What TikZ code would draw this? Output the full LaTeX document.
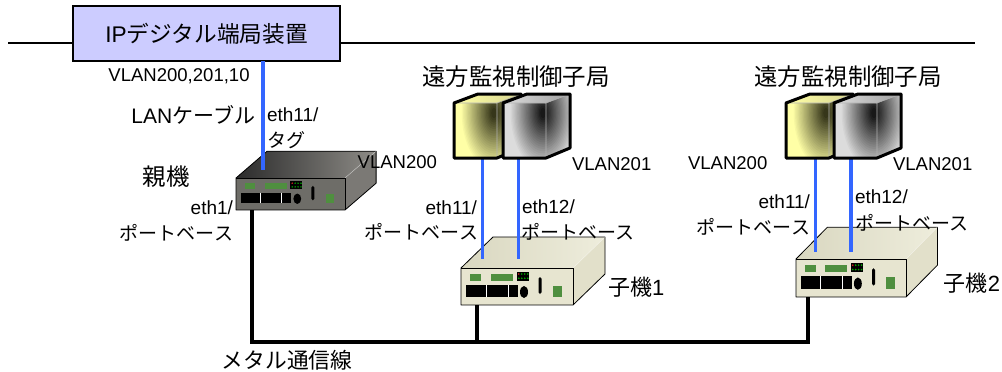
\documentclass[tikz,border=0pt]{standalone}
\usepackage{fontspec}
\setmainfont{Liberation Sans}
\newfontfamily\jpfont{Noto Sans CJK JP}
\newcommand\jp[1]{{\jpfont #1}}

\definecolor{lanblue}{HTML}{3366FF}
\definecolor{boxlav}{HTML}{CCCCFF}
\definecolor{ledgreen}{HTML}{4F8F3F}
\definecolor{ledred}{HTML}{E02020}
% parent unit
\definecolor{pFront}{HTML}{6E6D68}
\definecolor{pTopD}{HTML}{2B2B2B}
\definecolor{pTopL}{HTML}{8E8C87}
\definecolor{pSide}{HTML}{7B7975}
% child units
\definecolor{cFront}{HTML}{E7E5D0}
\definecolor{cTopD}{HTML}{D9D7C0}
\definecolor{cTopL}{HTML}{EEEDDC}
\definecolor{cSide}{HTML}{E2E0CA}
% stations
\definecolor{yLight}{HTML}{FFFFA6}
\definecolor{yDark}{HTML}{2E2E14}
\definecolor{yMid}{HTML}{D8D690}
\definecolor{gLight}{HTML}{DCDCDC}
\definecolor{gDark}{HTML}{101010}
\definecolor{gMid}{HTML}{A0A0A0}

\tikzset{
  every node/.style={inner sep=0pt, outer sep=0pt},
  lbl/.style={font=\fontsize{13.9pt}{16pt}\selectfont},
  ethlbl/.style={font=\fontsize{14.25pt}{16pt}\selectfont},
  portlbl/.style={font=\fontsize{14.25pt}{16pt}\selectfont\jpfont},
  biglbl/.style={font=\fontsize{17.6pt}{20pt}\selectfont\jpfont},
  unitlbl/.style={font=\fontsize{16.5pt}{19pt}\selectfont\jpfont},
  lan/.style={draw=lanblue, line width=2.4pt},
  metal/.style={draw=black, line width=2.5pt},
  bus/.style={draw=black, line width=1.5pt},
  % network unit: front panel 112 x 37 with top and right faces
  pics/unit/.style n args={4}{code={
    \path[left color=#2, right color=#3] (0,0) -- (32,-31) -- (144,-31) -- (112,0) -- cycle;
    \fill[#4] (112,0) -- (144,-31) -- (144,6) -- (112,37) -- cycle;
    \fill[#1] (0,0) rectangle (112,37);
    \draw[line width=0.6pt, line join=round] (0,37) -- (0,0) -- (32,-31) -- (144,-31) -- (144,6) -- (112,37) -- cycle;
    \draw[line width=0.6pt] (0,0) -- (112,0) -- (112,37);
    \draw[white, opacity=0.45, line width=0.4pt] (112,0) -- (144,-31);
    % indicators
    \fill[ledgreen] (9,6) rectangle (20,13);
    \fill[ledgreen] (30,6) rectangle (52,13);
    \fill[black] (56,4) rectangle (68,12.5);
    \fill[ledred] (57.8,6) circle (0.9);
    \foreach \i in {1,2,3} {\fill[green!70!black] (57.8+3*\i,6) circle (0.9);}
    \foreach \i in {0,1,2,3} {\fill[green!70!black] (57.8+3*\i,10.3) circle (0.9);}
    % ports
    \fill[black] (5,17) rectangle (57,29);
    \draw[white, line width=0.5pt] (25,17) -- (25,29) (47,17) -- (47,29);
    \fill[black] (63,24) ellipse (4 and 6);
    \fill[black, rounded corners=1.2pt] (77.5,9) rectangle (80.5,26);
    \fill[ledgreen] (92,18) rectangle (101,29);
  }},
  % monitoring station box: front 43 x 55, depth (24,-9);
  % #1 light tone, #2 dark core, #3 top face tone
  pics/station/.style n args={3}{code={
    \begin{scope}
      \clip (0,0) -- (43,0) -- (67,-9) -- (67,45) -- (43,55) -- (0,55) -- cycle;
      \fill[#1] (0,-10) rectangle (68,56);
      \foreach \k in {1,...,24} {
        \pgfmathsetmacro\p{4*\k}
        \pgfmathsetmacro\rx{32*(1-\k/25)+1.5}
        \pgfmathsetmacro\ry{55*(1-\k/25)+3}
        \fill[#2!\p!#1] (40,10) ellipse ({\rx} and {\ry});
      }
    \end{scope}
    \path[left color=#1, right color=#3] (0,0) -- (24,-9) -- (67,-9) -- (43,0) -- cycle;
    \draw[black!30, line width=0.4pt] (0,0) -- (43,0) -- (67,-9) (43,0) -- (43,55);
    \draw[line width=2.25pt, line join=round]
      (0,0) -- (24,-9) -- (67,-9) -- (67,45) -- (43,55) -- (0,55) -- cycle;
  }},
}

\begin{document}
\begin{tikzpicture}[x=0.75pt, y=-0.75pt]
\useasboundingbox (0,0) rectangle (1002,371);

% backbone line and IP terminal
\coordinate (busL) at (8,43);
\coordinate (busR) at (975,43);
\node[draw, line width=1.5pt, fill=boxlav, minimum width=200.25pt, minimum height=41.25pt,
      font=\fontsize{17pt}{20pt}\selectfont] (ipbox) at (206.5,33.5) {IP\jp{デジタル端局装置}};
\draw[bus] (busL) -- (ipbox.west |- busL);
\draw[bus] (ipbox.east |- busR) -- (busR);

% metal line between units
\coordinate (pPort) at (252,205);
\coordinate (c1Port) at (477,300);
\coordinate (c2Port) at (808,292);
\coordinate (metalStart) at (252,342);
\draw[metal] (pPort) -- (metalStart) -| (c2Port);
\draw[metal] (c1Port) -- (c1Port |- metalStart);

% units
\pic[xscale=0.973, yscale=0.865] (parent) at (236,178) {unit={pFront}{pTopD}{pTopL}{pSide}};
\pic (child1) at (461,268) {unit={cFront}{cTopD}{cTopL}{cSide}};
\pic[xscale=0.982, yscale=1.027] (child2) at (796,259) {unit={cFront}{cTopD}{cTopL}{cSide}};

% LAN cables
\coordinate (pTop) at (263,170);
\draw[lan] (ipbox.south -| pTop) -- (pTop);

\coordinate (s1a) at (482.5,158);
\coordinate (c1a) at (482.5,259);
\coordinate (s1b) at (518.5,158);
\coordinate (c1b) at (518.5,259);
\coordinate (s2a) at (815.5,158);
\coordinate (c2a) at (815.5,252);
\coordinate (s2b) at (851,158);
\coordinate (c2b) at (851,252);
\draw[lan] (s1a) -- (c1a);
\draw[lan] (s1b) -- (c1b);
\draw[lan] (s2a) -- (c2a);
\draw[lan] (s2b) -- (c2b);

% monitoring stations
\pic (st1y) at (454,103) {station={yLight}{yDark}{yMid}};
\pic (st1g) at (503,103) {station={gLight}{gDark}{gMid}};
\pic (st2y) at (786,103) {station={yLight}{yDark}{yMid}};
\pic (st2g) at (834,103) {station={gLight}{gDark}{gMid}};

% labels: parent side
\node[lbl] (vlanAll) at (179,76) {VLAN200,201,10};
\node[anchor=east, font=\fontsize{15.75pt}{18pt}\selectfont] (lancable) at (255,115) {LAN\jp{ケーブル}};
\node[ethlbl, anchor=west] (pEth11) at (267,115) {eth11/};
\node[portlbl, anchor=west] (pTag) at (267,140) {タグ};
\node[biglbl] (parentLbl) at (166,177) {親機};
\node[ethlbl, anchor=east] (pEth1) at (233,208) {eth1/};
\node[portlbl, anchor=east] (pPortB) at (233,233) {ポートベース};

% labels: first station group
\node[biglbl] (st1Lbl) at (516,77) {遠方監視制御子局};
\node[lbl, anchor=east] (v200a) at (437,162) {VLAN200};
\node[lbl, anchor=west] (v201a) at (572,164) {VLAN201};
\node[ethlbl, anchor=east] (c1Eth11) at (477,208) {eth11/};
\node[portlbl, anchor=east] (c1PortA) at (478,232) {ポートベース};
\node[ethlbl, anchor=west] (c1Eth12) at (522,207) {eth12/};
\node[portlbl, anchor=west] (c1PortB) at (521,232) {ポートベース};
\node[unitlbl, anchor=west] (child1Lbl) at (608,287) {子機\textnormal{\fontsize{16.5pt}{19pt}\selectfont 1}};

% labels: second station group
\node[biglbl] (st2Lbl) at (848,77) {遠方監視制御子局};
\node[lbl, anchor=west] (v200b) at (688,163) {VLAN200};
\node[lbl, anchor=west] (v201b) at (893,164) {VLAN201};
\node[ethlbl, anchor=east] (c2Eth11) at (810,202) {eth11/};
\node[portlbl, anchor=east] (c2PortA) at (810,227) {ポートベース};
\node[ethlbl, anchor=west] (c2Eth12) at (855,197) {eth12/};
\node[portlbl, anchor=west] (c2PortB) at (855,223) {ポートベース};
\node[unitlbl, anchor=east] (child2Lbl) at (1000,283) {子機\textnormal{\fontsize{16.5pt}{19pt}\selectfont 2}};

% metal line label
\node[font=\fontsize{16.3pt}{19pt}\selectfont\jpfont] (metalLbl) at (287,360) {メタル通信線};
\end{tikzpicture}
\end{document}
